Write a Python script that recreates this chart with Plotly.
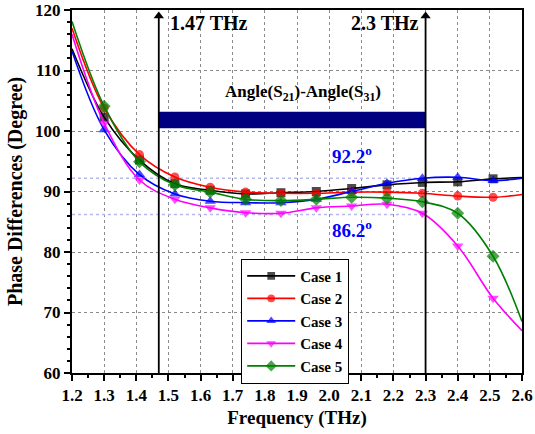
import plotly.graph_objects as go

freq = [1.2, 1.3, 1.41, 1.52, 1.63, 1.74, 1.85, 1.96, 2.07, 2.18, 2.29, 2.40, 2.51, 2.6]
case1 = [113.6, 102.3, 95.2, 91.3, 90.2, 89.6, 89.8, 90.0, 90.5, 91.1, 91.5, 91.6, 92.1, 92.3]
case2 = [117.0, 103.8, 96.1, 92.4, 90.7, 89.9, 89.7, 89.7, 89.9, 89.9, 89.7, 89.25, 89.05, 89.5]
case3 = [113.2, 100.2, 92.8, 89.6, 88.4, 88.15, 88.15, 88.7, 90.0, 91.35, 92.2, 92.35, 91.8, 92.2]
case4 = [116.0, 101.3, 91.9, 88.7, 87.3, 86.5, 86.4, 87.3, 87.6, 87.9, 86.4, 81.0, 72.35, 67.0]
case5 = [118.1, 104.1, 94.9, 91.1, 89.9, 88.7, 88.5, 88.7, 89.05, 88.9, 88.3, 86.4, 79.3, 68.5]
names = ["Case 1", "Case 2", "Case 3", "Case 4", "Case 5"]
colors = ["#000000", "#FF0000", "#0000FF", "#FF00FF", "#008000"]
symbols = ["square", "circle", "triangle-up", "triangle-down", "diamond"]
marker_sizes = [9, 9, 10, 10, 10]

ref_levels = [92.2, 86.2]
band_start, band_end = 1.47, 2.3
band_y = [100.45, 103.2]
y_min, y_max = 60, 120

FONT = "Liberation Serif"

fig = go.Figure()
series = [case1, case2, case3, case4, case5]

# reference dotted lines
for lv in ref_levels:
    fig.add_trace(go.Scatter(x=[1.2, band_end], y=[lv, lv], mode="lines",
                             line=dict(color="#B8B8F0", width=1.5, dash="dot"),
                             showlegend=False, hoverinfo="skip"))

for nm, ys, c, s, ms in zip(names, series, colors, symbols, marker_sizes):
    sizes = [0] + [ms] * (len(freq) - 2) + [0]
    fig.add_trace(go.Scatter(
        x=freq, y=ys, name=nm, mode="lines+markers",
        line=dict(color=c, width=1.6, shape="spline", smoothing=1.0),
        marker=dict(symbol=s, size=sizes, color=c, line=dict(width=0)),
    ))

# navy bar
fig.add_shape(type="rect", x0=band_start, x1=band_end, y0=band_y[0], y1=band_y[1],
              fillcolor="#000080", line=dict(width=0), layer="above")

# vertical arrows: lines + arrowheads
for xv in [band_start, band_end]:
    fig.add_shape(type="line", x0=xv, x1=xv, y0=y_min, y1=y_max - 1.2,
                  line=dict(color="black", width=1.8), layer="above")
fig.add_trace(go.Scatter(x=[band_start, band_end], y=[y_max - 1.0, y_max - 1.0], mode="markers",
                         marker=dict(symbol="triangle-up", size=9, color="black"),
                         showlegend=False, hoverinfo="skip", cliponaxis=False))

fig.add_annotation(x=1.5, y=117.8, text="1.47 THz", showarrow=False, xanchor="left",
                   font=dict(size=20, color="black"))
fig.add_annotation(x=2.285, y=117.8, text="2.3 THz", showarrow=False, xanchor="right",
                   font=dict(size=20, color="black"))
fig.add_annotation(x=1.92, y=106.2, text="Angle(S<sub>21</sub>)-Angle(S<sub>31</sub>)",
                   showarrow=False, font=dict(size=17, color="black"))
fig.add_annotation(x=2.07, y=96.0, text="92.2<sup>o</sup>", showarrow=False,
                   font=dict(size=19, color="#0000FF"))
fig.add_annotation(x=2.07, y=83.8, text="86.2<sup>o</sup>", showarrow=False,
                   font=dict(size=19, color="#0000FF"))

axis_common = dict(showline=True, linecolor="black", linewidth=2, mirror=True,
                   ticks="outside", tickwidth=2, tickcolor="black", ticklen=6,
                   showgrid=True, gridcolor="#8a8a8a", griddash="3px,3px", gridwidth=1,
                   zeroline=False, automargin=False,
                   tickfont=dict(family=FONT, size=17, color="black", weight="bold"))

fig.update_xaxes(range=[1.2, 2.6], dtick=0.1, tick0=1.2, tickformat=".1f",
                 minor=dict(ticks="outside", ticklen=3, tickwidth=1.5, tickcolor="black", dtick=0.05, showgrid=False),
                 title=dict(text="Frequency (THz)", font=dict(family=FONT, size=19, color="black", weight="bold"), standoff=6),
                 **axis_common)
fig.update_yaxes(range=[y_min, y_max], dtick=10,
                 minor=dict(ticks="outside", ticklen=3, tickwidth=1.5, tickcolor="black", dtick=2, showgrid=False),
                 title=dict(text="Phase Differences (Degree)", font=dict(family=FONT, size=20, color="black", weight="bold"), standoff=7),
                 **axis_common)

fig.update_layout(
    width=535, height=434,
    margin=dict(l=72, r=13, t=10, b=61),
    plot_bgcolor="white", paper_bgcolor="white",
    font=dict(family=FONT, weight="bold", color="black"),
    legend=dict(x=0.376, y=0.315, xanchor="left", yanchor="top",
                bgcolor="white", bordercolor="black", borderwidth=1,
                font=dict(family=FONT, size=15, color="black", weight="bold"),
                tracegroupgap=0, itemwidth=48),
    showlegend=True,
)

fig.write_html("out.html", config={"displayModeBar": False},
               post_script="document.body.style.margin='0';document.body.style.overflow='hidden';")
